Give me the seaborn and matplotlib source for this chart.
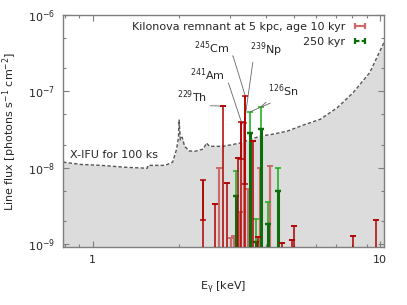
import numpy as np
import matplotlib
matplotlib.use("Agg")
import matplotlib.pyplot as plt
import matplotlib.ticker as mticker
from matplotlib.lines import Line2D
import seaborn as sns

# X-IFU 100 ks sensitivity curve (keV, photons/s/cm2)
sens_E = [0.79, 0.91, 1.07, 1.30, 1.55, 1.56, 1.79, 1.90, 1.96, 1.99, 2.00, 2.02,
          2.05, 2.09, 2.17, 2.28, 2.43, 2.49, 2.55, 2.85, 3.27, 3.54, 3.86, 4.15,
          4.75, 5.4, 6.2, 7.1, 8.06, 9.2, 10.3, 10.6]
sens_flux = [1.18e-8, 1.10e-8, 1.07e-8, 1.01e-8, 9.8e-9, 1.07e-8, 1.07e-8, 1.18e-8,
             1.74e-8, 2.5e-8, 4.2e-8, 2.3e-8, 2.5e-8, 1.9e-8, 1.65e-8, 1.64e-8,
             1.75e-8, 2.1e-8, 1.9e-8, 1.9e-8, 2.1e-8, 2.35e-8, 2.6e-8, 2.7e-8,
             3.0e-8, 3.6e-8, 4.3e-8, 6.1e-8, 9.6e-8, 1.75e-7, 4.3e-7, 5.5e-7]

# 10 kyr lines, dark: energy, upper, lower (nan = no lower cap)
red_E = [2.43, 2.67, 2.85, 2.94, 3.21, 3.29, 3.40, 3.62, 3.77, 4.57, 4.95, 5.03, 8.06, 9.68]
red_hi = [6.9e-9, 3.3e-9, 6.4e-8, 6.3e-9, 1.33e-8, 4.0e-8, 8.6e-8, 2.2e-8, 1.25e-9,
          1.04e-9, 1.13e-9, 1.72e-9, 1.28e-9, 2.06e-9]
red_lo = [2.06e-9, np.nan, np.nan, np.nan, np.nan, 1.29e-8, 6.1e-9, np.nan, np.nan,
          np.nan, np.nan, np.nan, np.nan, np.nan]

# 10 kyr lines, light
pink_E = [2.76, 3.04, 3.11, 3.26, 3.37, 3.48, 3.83, 4.15]
pink_hi = [9.8e-9, 1.2e-9, 1.28e-9, 2.6e-9, 3.8e-8, 5.2e-9, 9.8e-9, 1.05e-8]

# 250 kyr lines: energy, upper, lower
grn_E = [3.16, 3.54, 3.71, 3.86, 4.07, 4.42]
grn_hi = [9.0e-9, 5.4e-8, 2.1e-9, 6.3e-8, 3.5e-9, 9.8e-9]
grn_lo = [4.3e-9, 2.8e-8, 1.07e-9, 3.2e-8, 1.8e-9, 4.9e-9]

FLOOR = 1e-10
DARKRED = "#b00000"
PINK = "#cc6b6b"
LIGHTGRN = "#22b422"
DARKGRN = "#0a6e0a"
GREY = "#7f7f7f"

sns.set_style("ticks")
plt.rcParams["font.family"] = ["DejaVu Sans"]
plt.rcParams["mathtext.default"] = "regular"

fig = plt.figure(figsize=(4.07, 3.05), dpi=100)
ax = fig.add_axes([0.155, 0.19, 0.788, 0.761])
ax.set_xscale("log")
ax.set_yscale("log")

# sensitivity
ax.fill_between(sens_E, sens_flux, FLOOR, color="#dcdcdc", lw=0, zorder=0)
sns.lineplot(x=sens_E, y=sens_flux, ax=ax, color="#555555", lw=1.0,
             linestyle=(0, (2.5, 1.5)), sort=False, estimator=None, zorder=1)
ax.text(0.022, 0.397, "X-IFU for 100 ks", transform=ax.transAxes, fontsize=8,
        ha="left", va="center")

# 250 kyr
gE, ghi, glo = map(np.array, (grn_E, grn_hi, grn_lo))
ax.vlines(gE, FLOOR, glo, color=DARKGRN, lw=2.2, zorder=3)
ax.errorbar(gE, ghi, yerr=[ghi - glo, np.zeros_like(ghi)], fmt="none",
            ecolor=LIGHTGRN, elinewidth=1.2, capsize=2, capthick=1.2, zorder=3)
ax.errorbar(gE, glo, yerr=[np.zeros_like(glo), np.zeros_like(glo)], fmt="none",
            ecolor=DARKGRN, elinewidth=1.2, capsize=2.3, capthick=1.6, zorder=4)

# 10 kyr light
pE, phi = np.array(pink_E), np.array(pink_hi)
ax.vlines(pE, FLOOR, phi, color=PINK, lw=1.6, zorder=2)
ax.errorbar(pE, phi, yerr=[np.zeros_like(phi), np.zeros_like(phi)], fmt="none",
            ecolor=PINK, capsize=2.2, capthick=1.4, zorder=2)

# 10 kyr dark
rE, rhi, rlo = map(np.array, (red_E, red_hi, red_lo))
rlo_f = np.where(np.isnan(rlo), rhi, rlo)
ax.vlines(rE, FLOOR, rhi, color=DARKRED, lw=1.1, zorder=5)
ax.errorbar(rE, rhi, yerr=[rhi - rlo_f, np.zeros_like(rhi)], fmt="none",
            ecolor=DARKRED, elinewidth=1.1, capsize=2, capthick=1.1, zorder=5)

# labels for the lines
lead = dict(arrowstyle="-", color="#666666", lw=0.6, shrinkA=0, shrinkB=0)
ax.annotate(r"$^{229}$Th", xy=(red_E[2], red_hi[2]), xytext=(0.355, 0.612),
            textcoords="axes fraction", fontsize=8, ha="left", va="bottom",
            arrowprops=dict(lead, relpos=(0, 0)))
ax.annotate(r"$^{241}$Am", xy=(red_E[5], red_hi[5]), xytext=(0.396, 0.707),
            textcoords="axes fraction", fontsize=8, ha="left", va="bottom",
            arrowprops=dict(lead, relpos=(1.1, 0)))
ax.annotate(r"$^{245}$Cm", xy=(red_E[6], red_hi[6]), xytext=(0.408, 0.823),
            textcoords="axes fraction", fontsize=8, ha="left", va="bottom",
            arrowprops=dict(lead, relpos=(0.7, 0),
                            connectionstyle="angle,angleA=0,angleB=107,rad=0"))
ax.annotate(r"$^{239}$Np", xy=(pink_E[4], pink_hi[4]), xytext=(0.583, 0.81),
            textcoords="axes fraction", fontsize=8, ha="left", va="bottom",
            arrowprops=dict(lead, relpos=(0.1, 0)))
ax.annotate(r"$^{126}$Sn", xy=(grn_E[3], grn_hi[3]), xytext=(0.639, 0.638),
            textcoords="axes fraction", fontsize=8, ha="left", va="bottom",
            arrowprops=dict(lead, relpos=(0.05, 0)))
ax.annotate("", xy=(grn_E[1], grn_hi[1]), xytext=(0.646, 0.62),
            textcoords="axes fraction", arrowprops=lead)

# legend
h_red = Line2D([], [], color=PINK, lw=1.6, marker="|", markersize=5, mew=1.6)
h_grn = Line2D([], [], color=DARKGRN, lw=1.6, ls=(0, (2, 1)), marker="|",
               markersize=5, mew=1.6)
ax.legend([h_red, h_grn], ["Kilonova remnant at 5 kpc, age 10 kyr", "250 kyr"],
          loc="upper right", bbox_to_anchor=(0.952, 0.97), frameon=False,
          numpoints=2, markerfirst=False, handlelength=1.55, handletextpad=0.55,
          labelspacing=0.45, borderpad=0, borderaxespad=0, fontsize=8)

ax.set_xlim(0.79, 10.3)
ax.set_ylim(9.1e-10, 1e-6)
ax.set_xticks([1, 10], ["1", "10"])
ax.set_xticks([0.8, 0.9] + list(range(2, 10)), minor=True)
ax.xaxis.set_minor_formatter(mticker.NullFormatter())
ax.yaxis.set_major_locator(mticker.LogLocator(base=10, numticks=10))
ax.yaxis.set_minor_locator(mticker.LogLocator(base=10, subs=(2, 5), numticks=10))
ax.yaxis.set_minor_formatter(mticker.NullFormatter())

for s in ax.spines.values():
    s.set_color(GREY)
    s.set_linewidth(1.0)
ax.tick_params(which="both", direction="in", top=True, right=True, color=GREY,
               labelsize=8, pad=6)
ax.tick_params(which="major", length=4, width=0.8)
ax.tick_params(which="minor", length=2.5, width=0.8)

ax.set_xlabel(r"E$_\gamma$ [keV]", fontsize=8, labelpad=10)
ax.set_ylabel(r"Line flux [photons s$^{-1}$ cm$^{-2}$]", fontsize=8, labelpad=6)

fig.savefig("out.png", dpi=100)
